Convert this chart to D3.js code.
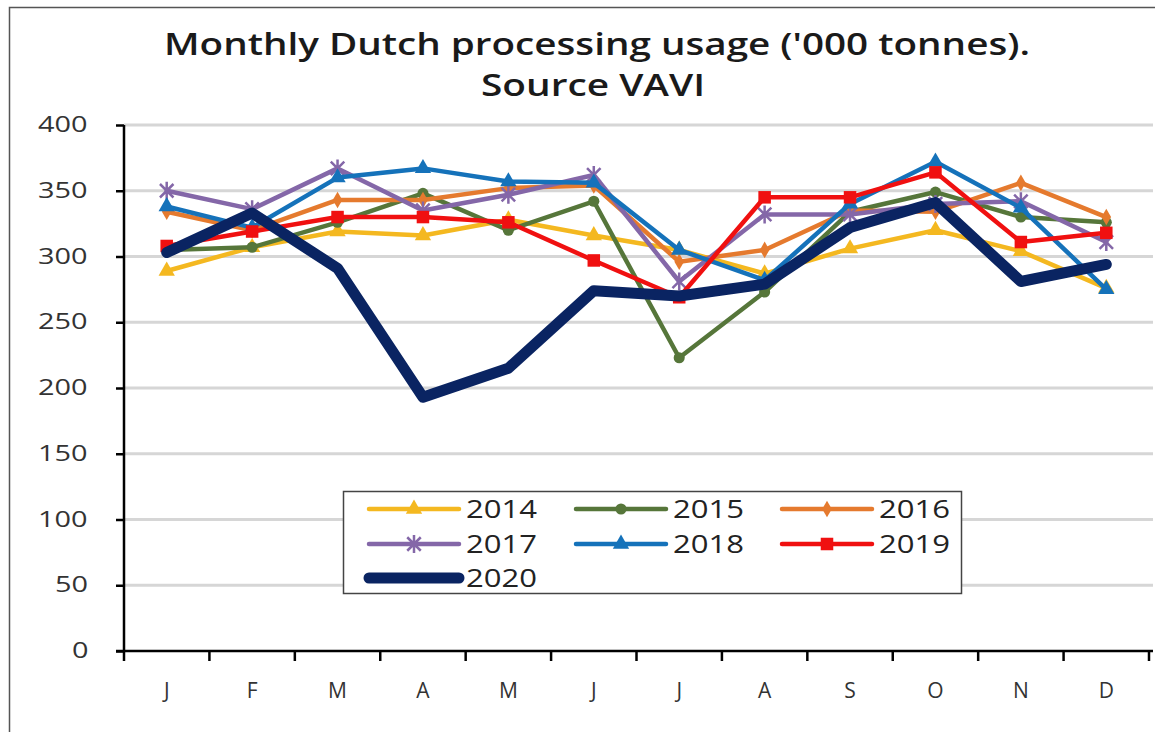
<!DOCTYPE html>
<html>
<head>
<meta charset="utf-8">
<script src="https://cdn.jsdelivr.net/npm/d3@7"></script>
<style>
  body { margin: 0; background: #fff; }
  svg { display: block; }
  .ylab text { font-family: "Open Sans", sans-serif; font-size: 21px; fill: #333; }
</style>
</head>
<body>
<svg width="1155" height="732"></svg>
<script>
// months shown on the x axis
const months = ['J','F','M','A','M','J','J','A','S','O','N','D'];
const years = ['2014','2015','2016','2017','2018','2019','2020'];
const yTicks = [0, 50, 100, 150, 200, 250, 300, 350, 400];

// monthly usage, '000 tonnes
const v2014 = [289, 307, 319, 316, 328, 316, 305, 287, 306, 320, 304, 276];
const v2015 = [305, 307, 326, 348, 320, 342, 223, 273, 334, 349, 330, 326];
const v2016 = [334, 320, 343, 343, 352, 354, 296, 305, 335, 334, 356, 330];
const v2017 = [350, 336, 367, 335, 347, 362, 281, 332, 332, 340, 342, 311];
const v2018 = [338, 322, 360, 367, 357, 356, 305, 282, 340, 372, 337, 275];
const v2019 = [308, 319, 330, 330, 326, 297, 269, 345, 345, 364, 311, 318];
const v2020 = [303, 333, 291, 193, 215, 274, 270, 279, 322, 341, 281, 294];

const colors = ['#F4B820', '#56763A', '#E57A2E', '#8467A8', '#1572BA', '#F01010', '#0A2462'];
const markers = ['triangle', 'circle', 'diamond', 'star', 'triangle', 'square', 'none'];
const widths = [4.5, 4.5, 4.5, 4.5, 4.5, 4.5, 11];

const series = years.map((y, i) => ({
  year: y,
  values: [v2014, v2015, v2016, v2017, v2018, v2019, v2020][i],
  color: colors[i], marker: markers[i], width: widths[i]
}));

const svg = d3.select('svg');

// outer frame of the chart object
svg.append('rect')
  .attr('x', 9.5).attr('y', 7.5)
  .attr('width', 1200).attr('height', 800)
  .attr('fill', 'none').attr('stroke', '#555').attr('stroke-width', 1.5);

// title
const title = svg.append('g')
  .attr('font-family', '"Open Sans", sans-serif')
  .attr('font-weight', 600)
  .attr('font-size', 31)
  .attr('fill', '#1a1a1a')
  .attr('text-anchor', 'middle');
title.append('text').attr('x', 597).attr('y', 55)
  .attr('textLength', 866).attr('lengthAdjust', 'spacingAndGlyphs')
  .text("Monthly Dutch processing usage ('000 tonnes).");
title.append('text').attr('x', 593).attr('y', 96)
  .attr('textLength', 224).attr('lengthAdjust', 'spacingAndGlyphs')
  .text('Source VAVI');

// scales
const x = d3.scaleBand()
  .domain(d3.range(months.length))
  .range([124, 1149])
  .padding(0);
const y = d3.scaleLinear()
  .domain([0, 400])
  .range([651, 125]);

// gridlines
svg.append('g')
  .selectAll('line')
  .data(yTicks.filter(d => d > 0))
  .enter()
  .append('line')
  .attr('x1', 124).attr('x2', 1153)
  .attr('y1', d => y(d)).attr('y2', d => y(d))
  .attr('stroke', '#d6d6d6').attr('stroke-width', 3);

// y axis
const yAxis = svg.append('g')
  .attr('class', 'ylab')
  .attr('transform', 'translate(124,0)')
  .call(d3.axisLeft(y).tickValues(yTicks).tickSize(8).tickPadding(34));
yAxis.selectAll('line').attr('stroke', '#000').attr('stroke-width', 2.5);
yAxis.select('.domain').attr('stroke', '#000').attr('stroke-width', 2.5)
  .attr('d', 'M0,' + y(400) + 'V' + y(0));
yAxis.selectAll('text')
  .attr('text-anchor', 'start')
  .attr('x', d => -86 + (3 - String(d).length) * 17)
  .attr('textLength', d => String(d).length * 16.5)
  .attr('lengthAdjust', 'spacingAndGlyphs');

// x axis: line, ticks at band edges, labels at band centres
const xg = svg.append('g');
xg.append('line')
  .attr('x1', 116).attr('x2', 1153)
  .attr('y1', y(0)).attr('y2', y(0))
  .attr('stroke', '#000').attr('stroke-width', 2.5);
xg.selectAll('line.tick')
  .data(d3.range(months.length + 1))
  .enter()
  .append('line')
  .attr('class', 'tick')
  .attr('x1', i => i < months.length ? x(i) : x(months.length - 1) + x.bandwidth())
  .attr('x2', i => i < months.length ? x(i) : x(months.length - 1) + x.bandwidth())
  .attr('y1', y(0)).attr('y2', y(0) + 10)
  .attr('stroke', '#000').attr('stroke-width', 2.5);
xg.selectAll('text')
  .data(months)
  .enter()
  .append('text')
  .attr('x', (d, i) => x(i) + x.bandwidth() / 2)
  .attr('y', 698)
  .attr('text-anchor', 'middle')
  .attr('font-family', '"Open Sans", sans-serif')
  .attr('font-size', 21)
  .attr('fill', '#333')
  .text(d => d);

// marker shapes
function markerPath(type, size) {
  if (type === 'star') {
    const r = size / 2;
    const a = r * 0.75;
    return 'M' + (-a) + ',' + (-a) + 'L' + a + ',' + a +
           'M' + (-a) + ',' + a + 'L' + a + ',' + (-a) +
           'M0,' + (-r) + 'V' + r;
  }
  const sym = {triangle: d3.symbolTriangle, circle: d3.symbolCircle,
               diamond: d3.symbolDiamond, square: d3.symbolSquare}[type];
  return d3.symbol().type(sym).size(size * size * 0.8)();
}
const markerSize = {triangle: 12, circle: 11, diamond: 10, star: 18, square: 14};

function drawMarker(g, s, cx, cy) {
  if (s.marker === 'none') return;
  const p = g.append('path')
    .attr('transform', 'translate(' + cx + ',' + cy + ')')
    .attr('d', markerPath(s.marker, markerSize[s.marker]));
  if (s.marker === 'star') {
    p.attr('fill', 'none').attr('stroke', s.color).attr('stroke-width', 2.5);
  } else {
    p.attr('fill', s.color);
  }
}

const line = d3.line()
  .x((d, i) => x(i) + x.bandwidth() / 2)
  .y(d => y(d));

// series, 2014 first so 2020 lands on top
series.forEach(s => {
  const g = svg.append('g').attr('class', 'series');
  g.append('path')
    .attr('d', line(s.values))
    .attr('fill', 'none')
    .attr('stroke', s.color)
    .attr('stroke-width', s.width)
    .attr('stroke-linejoin', 'round')
    .attr('stroke-linecap', 'round');
  s.values.forEach((v, i) => drawMarker(g, s, x(i) + x.bandwidth() / 2, y(v)));
});

// legend
const legend = svg.append('g');
legend.append('rect')
  .attr('x', 343.5).attr('y', 491.5)
  .attr('width', 618).attr('height', 102)
  .attr('fill', '#fff').attr('stroke', '#444').attr('stroke-width', 1.5);
const colX = [369, 576, 782];
const rowY = [509, 544, 578];
series.forEach((s, i) => {
  const lx = colX[i % 3], ly = rowY[Math.floor(i / 3)];
  const g = legend.append('g');
  g.append('line')
    .attr('x1', lx).attr('x2', lx + 90)
    .attr('y1', ly).attr('y2', ly)
    .attr('stroke', s.color).attr('stroke-width', s.width)
    .attr('stroke-linecap', 'round');
  drawMarker(g, s, lx + 45, ly);
  g.append('text')
    .attr('x', lx + 97).attr('y', ly + 9)
    .attr('font-family', '"Open Sans", sans-serif')
    .attr('font-size', 26)
    .attr('textLength', 71).attr('lengthAdjust', 'spacingAndGlyphs')
    .attr('fill', '#222')
    .text(s.year);
});
</script>
</body>
</html>
